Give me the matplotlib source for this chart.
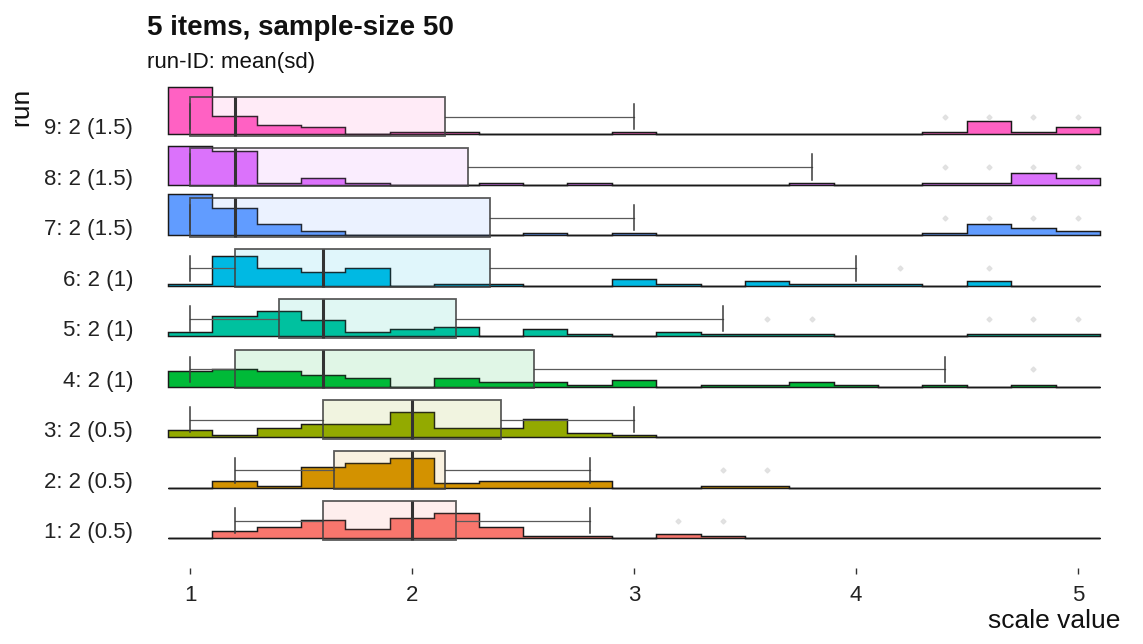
import numpy as np
import matplotlib
matplotlib.use("Agg")
import matplotlib.pyplot as plt
from matplotlib.patches import Rectangle

plt.rcParams['font.family'] = ['Liberation Sans', 'DejaVu Sans']

# ---------------- data ----------------
title = "5 items, sample-size 50"
subtitle = "run-ID: mean(sd)"
x_title = "scale value"
y_title = "run"

x_ticks = [1, 2, 3, 4, 5]
bin_centers = [1.0, 1.2, 1.4, 1.6, 1.8, 2.0, 2.2, 2.4, 2.6, 2.8, 3.0,
               3.2, 3.4, 3.6, 3.8, 4.0, 4.2, 4.4, 4.6, 4.8, 5.0]
bin_width = 0.2

run_labels = ["1: 2 (0.5)", "2: 2 (0.5)", "3: 2 (0.5)", "4: 2 (1)", "5: 2 (1)",
              "6: 2 (1)", "7: 2 (1.5)", "8: 2 (1.5)", "9: 2 (1.5)"]
run_colors = ["#F8766D", "#D39200", "#93AA00", "#00BA38", "#00C19F",
              "#00B9E3", "#619CFF", "#DB72FB", "#FF61C3"]

# counts per bin (bins centred at bin_centers)
counts_run1 = [0, 3, 5, 8, 4, 9, 11, 5, 1, 1, 0, 2, 1, 0, 0, 0, 0, 0, 0, 0, 0]
counts_run2 = [0, 3, 1, 9, 11, 13, 2, 3, 3, 3, 0, 0, 1, 1, 0, 0, 0, 0, 0, 0, 0]
counts_run3 = [3, 1, 4, 6, 6, 11, 4, 4, 8, 2, 1, 0, 0, 0, 0, 0, 0, 0, 0, 0, 0]
counts_run4 = [7, 8, 7, 5, 4, 0, 4, 2, 2, 1, 3, 0, 1, 1, 2, 1, 0, 1, 0, 1, 0]
counts_run5 = [2, 9, 11, 7, 2, 3, 4, 0, 3, 1, 0, 2, 1, 1, 1, 0, 0, 0, 1, 1, 1]
counts_run6 = [1, 13, 8, 6, 8, 0, 1, 1, 0, 0, 3, 1, 0, 2, 1, 1, 1, 0, 2, 0, 0]
counts_run7 = [18, 12, 5, 2, 0, 0, 0, 0, 1, 0, 1, 0, 0, 0, 0, 0, 0, 1, 5, 3, 2]
counts_run8 = [17, 15, 1, 3, 1, 0, 0, 1, 0, 1, 0, 0, 0, 0, 1, 0, 0, 1, 1, 5, 3]
counts_run9 = [21, 8, 4, 3, 0, 1, 1, 0, 0, 0, 1, 0, 0, 0, 0, 0, 0, 1, 6, 1, 3]

# boxplot statistics per run: q1, median, q3, lower whisker, upper whisker
q1_vals     = [1.6, 1.65, 1.6, 1.2, 1.4, 1.2, 1.0, 1.0, 1.0]
median_vals = [2.0, 2.0, 2.0, 1.6, 1.6, 1.6, 1.2, 1.2, 1.2]
q3_vals     = [2.2, 2.15, 2.4, 2.55, 2.2, 2.35, 2.35, 2.25, 2.15]
wlo_vals    = [1.2, 1.2, 1.0, 1.0, 1.0, 1.0, 1.0, 1.0, 1.0]
whi_vals    = [2.8, 2.8, 3.0, 4.4, 3.4, 4.0, 3.0, 3.8, 3.0]
outliers = [
    [3.2, 3.4],
    [3.4, 3.6],
    [],
    [4.8],
    [3.6, 3.8, 4.6, 4.8, 5.0],
    [4.2, 4.6],
    [4.4, 4.6, 4.8, 5.0],
    [4.4, 4.6, 4.8, 5.0],
    [4.4, 4.6, 4.8, 5.0],
]

all_counts = [counts_run1, counts_run2, counts_run3, counts_run4, counts_run5,
              counts_run6, counts_run7, counts_run8, counts_run9]

# ---------------- style / layout ----------------
W, H = 1143, 644
fig = plt.figure(figsize=(W / 100, H / 100), dpi=100)
ax_left, ax_right, ax_top, ax_bottom = 140, 1120, 84, 568
ax = fig.add_axes([ax_left / W, (H - ax_bottom) / H,
                   (ax_right - ax_left) / W, (ax_bottom - ax_top) / H])

count_scale = 0.045      # row units per count
box_center = 0.35
box_half = 0.383
cap_half = 0.25

centers = np.asarray(bin_centers)
edges = np.concatenate([centers - bin_width / 2, [centers[-1] + bin_width / 2]])
xs = np.repeat(edges, 2)[1:-1]

n = len(run_labels)
# histograms, top row first so lower rows are drawn on top
for i in reversed(range(n)):
    base = i + 1
    h = np.repeat(np.asarray(all_counts[i], dtype=float), 2) * count_scale
    px = np.concatenate([[edges[0]], xs, [edges[-1]]])
    py = np.concatenate([[base], base + h, [base]])
    ax.fill(px, py, facecolor=run_colors[i], edgecolor='#1a1a1a',
            linewidth=1.05, zorder=2 + (n - i) * 0.01, joinstyle='miter')

# boxplots
for i in range(n):
    base = i + 1
    yc = base + box_center
    q1, med, q3 = q1_vals[i], median_vals[i], q3_vals[i]
    lo, hi = wlo_vals[i], whi_vals[i]
    # whiskers
    ax.plot([q3, hi], [yc, yc], color='#5a5a5a', lw=0.9, zorder=4)
    ax.plot([lo, q1], [yc, yc], color='#5a5a5a', lw=0.9, zorder=4)
    ax.plot([hi, hi], [yc - cap_half, yc + cap_half], color='#3a3a3a', lw=1.1, zorder=4)
    ax.plot([lo, lo], [yc - cap_half, yc + cap_half], color='#3a3a3a', lw=1.1, zorder=4)
    # box
    rect = Rectangle((q1, yc - box_half), q3 - q1, 2 * box_half,
                     facecolor=matplotlib.colors.to_rgba(run_colors[i], 0.12),
                     edgecolor=(0.25, 0.25, 0.25, 0.85), lw=1.3, zorder=5)
    ax.add_patch(rect)
    ax.plot([med, med], [yc - box_half, yc + box_half], color='#333333',
            lw=2.2, zorder=6, solid_capstyle='butt')
    # outliers
    if outliers[i]:
        ax.plot(outliers[i], [yc] * len(outliers[i]), linestyle='none',
                marker='D', ms=2.6, color='#dddddd', alpha=0.8, zorder=6)

ax.set_xlim(0.774, 5.19)
ax.set_ylim(0.412, 9.996)
ax.set_xticks(x_ticks)
ax.set_xticklabels([str(t) for t in x_ticks])
ax.set_yticks(np.arange(1, n + 1))
ax.set_yticklabels(run_labels)
for s in ax.spines.values():
    s.set_visible(False)
ax.tick_params(axis='x', length=4, width=1, color='#333333', pad=8.4,
               labelsize=16, labelcolor='#222222')
ax.tick_params(axis='y', length=0, pad=5, labelsize=16, labelcolor='#222222')
for lab in ax.get_yticklabels():
    lab.set_va('baseline')

fig.text(147 / W, 1 - 35 / H, title, fontsize=20, fontweight='bold',
         ha='left', va='baseline', color='#111111')
fig.text(147 / W, 1 - 68 / H, subtitle, fontsize=16,
         ha='left', va='baseline', color='#111111')
fig.text(1120 / W, 1 - 628 / H, x_title, fontsize=19,
         ha='right', va='baseline', color='#111111')
fig.text(21 / W, 1 - 88 / H, y_title, fontsize=19, rotation=90,
         ha='center', va='top', color='#111111')

fig.savefig("out.png", dpi=100)
